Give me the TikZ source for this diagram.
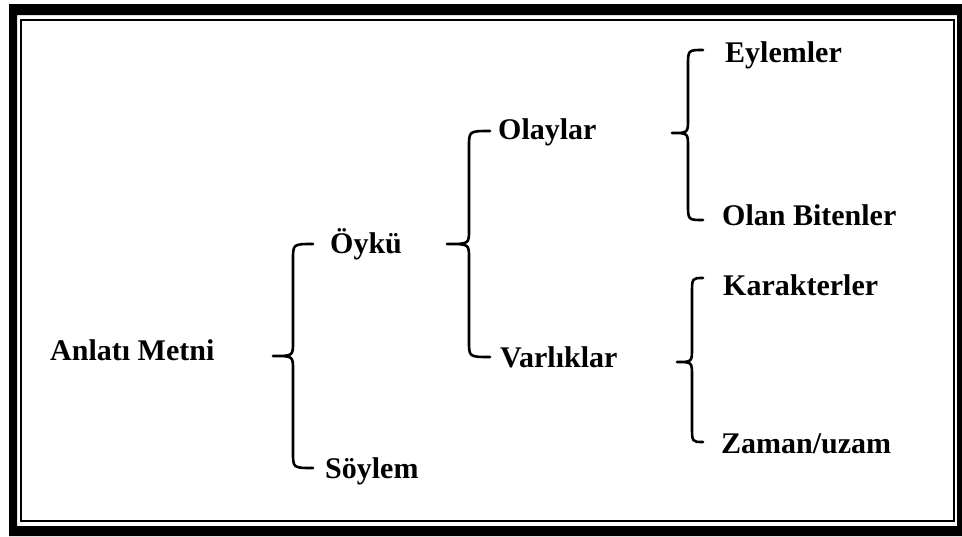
\documentclass[tikz,border=0pt]{standalone}
\usepackage{fontspec}
\setmainfont{Liberation Serif}
\newcommand\mybrace[6]{%
  \draw[bracestyle] (#1,#2) .. controls (#3,#2) .. (#3,#2+16) -- (#3,#5-14)
    .. controls (#3,#5) .. (#4,#5) .. controls (#3,#5) .. (#3,#5+14) -- (#3,#6-16)
    .. controls (#3,#6) .. (#1,#6);}
\begin{document}
\begin{tikzpicture}[x=1pt,y=-1pt,
  lbl/.style={anchor=base west,inner sep=0pt,font=\fontsize{30}{32}\selectfont\bfseries},
  bracestyle/.style={line width=2.6pt,line cap=round,line join=round}]
\useasboundingbox (0,0) rectangle (962,536);
\fill[white] (0,0) rectangle (962,536);
% frame
\fill[black,even odd rule] (9,4) rectangle (962,536) (17,15) rectangle (957,526);
\draw[line width=2.5pt] (21,20) rectangle (954,521);
% labels
\node[lbl] (anl) at (50,360) {Anlatı Metni};
\node[lbl] (oyk) at (330,253) {Öykü};
\node[lbl] (soy) at (325,478) {Söylem};
\node[lbl] (ola) at (498,139) {Olaylar};
\node[lbl] (var) at (500,367) {Varlıklar};
\node[lbl] (eyl) at (725,62) {Eylemler};
\node[lbl] (olb) at (722,225) {Olan Bitenler};
\node[lbl] (kar) at (723,295) {Karakterler};
\node[lbl] (zam) at (721,453) {Zaman/uzam};
% braces
\mybrace{313}{244}{293}{273}{356}{468}
\mybrace{490}{131}{469}{447}{244}{357}
\mybrace{703}{50}{688}{672}{133}{220}
\mybrace{703}{278}{692}{677}{362}{442}
\end{tikzpicture}
\end{document}
